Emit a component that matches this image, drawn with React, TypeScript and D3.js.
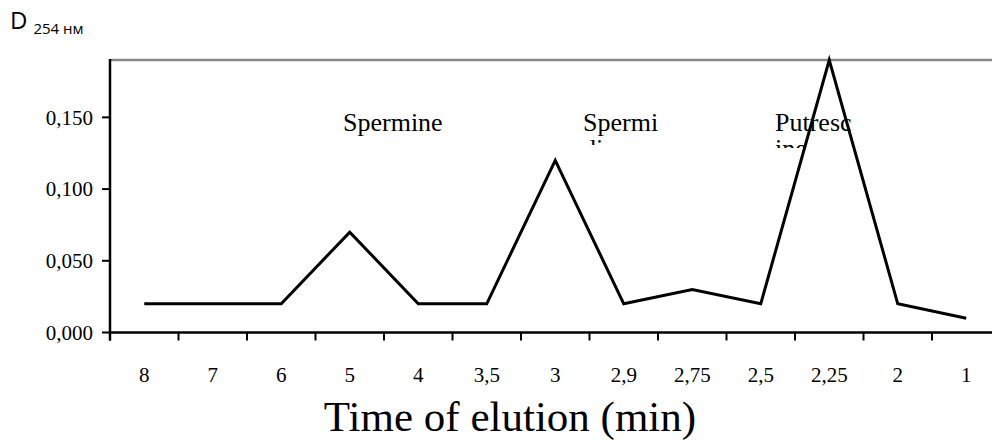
import React from "react";
import * as d3 from "d3";

const categories = ["8", "7", "6", "5", "4", "3,5", "3", "2,9", "2,75", "2,5", "2,25", "2", "1"];
const absorbance = [0.02, 0.02, 0.02, 0.07, 0.02, 0.02, 0.12, 0.02, 0.03, 0.02, 0.19, 0.02, 0.01];
const yTicks = [0, 0.05, 0.1, 0.15];
const annotations = [
  { lines: ["Spermine"], x: 343, clip: 200 },
  { lines: ["Spermi", "dine"], x: 583, clip: 145 },
  { lines: ["Putresc", "ine"], x: 775, clip: 148 },
];

const W = 992;
const H = 443;
const left = 110;
const right = 1000.5;
const top = 60;
const bottom = 332.5;

export default function App() {
  const x = d3.scaleBand<string>().domain(categories).range([left, right]).padding(0);
  const y = d3.scaleLinear().domain([0, 0.19]).range([bottom, top]);
  const line = d3
    .line<number>()
    .x((_, i) => (x(categories[i]) as number) + x.bandwidth() / 2)
    .y((d) => y(d));
  const fmt = (v: number) => v.toFixed(3).replace(".", ",");
  const serif = "'Liberation Serif', 'Times New Roman', serif";
  const boundaries = categories.map((c) => x(c) as number);

  return (
    <svg
      width={W}
      height={H}
      style={{ position: "absolute", left: 0, top: 0, background: "#fff" }}
      fontFamily={serif}
    >
      <defs>
        {annotations.map((a, i) => (
          <clipPath id={`clip${i}`} key={i}>
            <rect x={0} y={0} width={W} height={a.clip} />
          </clipPath>
        ))}
      </defs>
      {/* title */}
      <text x={10} y={29} fontFamily="'Open Sans', 'Noto Sans', sans-serif" fontSize={24} fill="#000">
        D
        <tspan dx={6} dy={5} fontSize={15}>254 нм</tspan>
      </text>

      {/* top border */}
      <line x1={left} x2={W} y1={top} y2={top} stroke="#888" strokeWidth={2.5} />

      {/* annotations */}
      {annotations.map((a, i) => (
        <text key={i} x={a.x} y={131} fontSize={26} clipPath={`url(#clip${i})`} fill="#000">
          {a.lines.map((l, j) => (
            <tspan key={j} x={a.x} dy={j === 0 ? 0 : 26}>
              {l}
            </tspan>
          ))}
        </text>
      ))}

      {/* y axis */}
      <line x1={left} x2={left} y1={top - 1} y2={bottom + 8} stroke="#000" strokeWidth={2.5} />
      {yTicks.map((t) => (
        <g key={t}>
          <line x1={left - 8} x2={left} y1={y(t)} y2={y(t)} stroke="#000" strokeWidth={2} />
          <text x={93} y={y(t)} dy="0.35em" textAnchor="end" fontSize={21} fill="#000">
            {fmt(t)}
          </text>
        </g>
      ))}

      {/* x axis */}
      <line x1={left} x2={W} y1={bottom} y2={bottom} stroke="#000" strokeWidth={2.5} />
      {boundaries.map((b, i) => (
        <line key={i} x1={b} x2={b} y1={bottom} y2={bottom + 8} stroke="#000" strokeWidth={2} />
      ))}
      {categories.map((c) => (
        <text
          key={c}
          x={(x(c) as number) + x.bandwidth() / 2}
          y={382}
          textAnchor="middle"
          fontSize={21}
          fill="#000"
        >
          {c}
        </text>
      ))}

      {/* data line */}
      <path d={line(absorbance) || ""} fill="none" stroke="#000" strokeWidth={3} strokeLinejoin="miter" />

      {/* axis title */}
      <text x={510} y={431} textAnchor="middle" fontSize={43} fill="#000">
        Time of elution (min)
      </text>
    </svg>
  );
}
